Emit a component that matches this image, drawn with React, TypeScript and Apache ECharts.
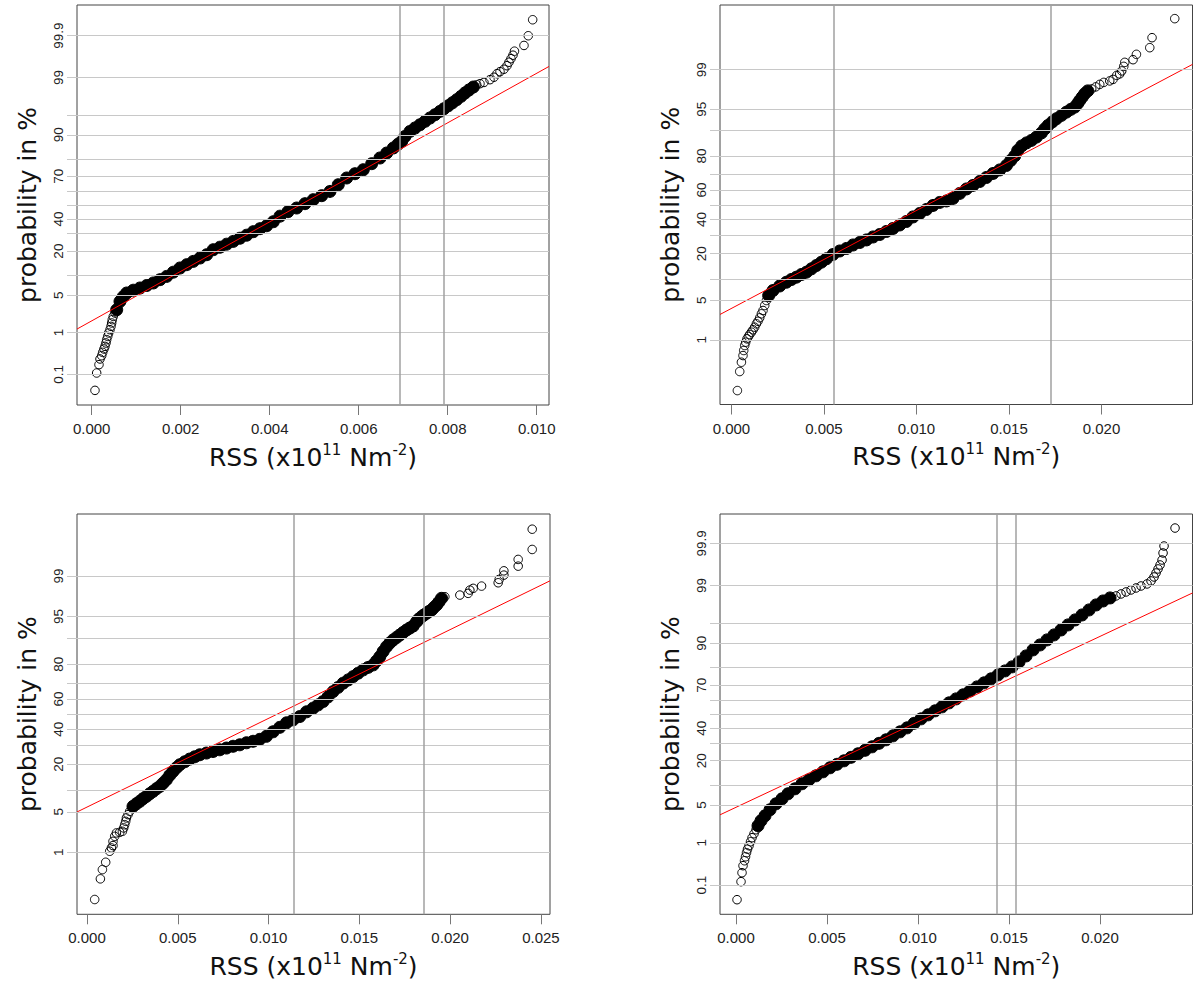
import React, { useEffect, useRef } from "react";
import * as echarts from "echarts";

// ---------- data (RSS value, normal quantile of plotting position) ----------
// Panel 1
const p1LowTail = [[0.000074,-3.383],[0.000112,-3.066],[0.000164,-2.914],[0.000187,-2.81],[0.000225,-2.75],[0.000247,-2.69],[0.000276,-2.628],[0.000299,-2.58],[0.000321,-2.518],[0.000337,-2.458],[0.00036,-2.398],[0.000382,-2.336],[0.000411,-2.276],[0.000434,-2.215],[0.000449,-2.153],[0.000463,-2.093],[0.000485,-2.033],[0.000524,-1.971]];
const p1Body = [[0.000562,-1.911],[0.000636,-1.759],[0.00071,-1.673],[0.000787,-1.606],[0.000935,-1.555],[0.001085,-1.515],[0.001236,-1.469],[0.001384,-1.423],[0.001535,-1.363],[0.001685,-1.303],[0.001834,-1.226],[0.001984,-1.15],[0.002135,-1.089],[0.002283,-1.029],[0.002434,-0.967],[0.002584,-0.907],[0.002732,-0.816],[0.002883,-0.77],[0.003034,-0.715],[0.003182,-0.664],[0.003332,-0.606],[0.003483,-0.551],[0.003631,-0.487],[0.003782,-0.432],[0.003932,-0.378],[0.004081,-0.305],[0.004231,-0.204],[0.004411,-0.122],[0.004606,-0.055],[0.004793,0.024],[0.004979,0.097],[0.005168,0.17],[0.005355,0.248],[0.005541,0.37],[0.00573,0.493],[0.005916,0.571],[0.006103,0.644],[0.006292,0.754],[0.006478,0.858],[0.006629,0.949],[0.006777,1.04],[0.006883,1.109],[0.006966,1.161],[0.00704,1.252],[0.007152,1.343],[0.007265,1.405],[0.007377,1.465],[0.007489,1.526],[0.007602,1.588],[0.007714,1.648],[0.007826,1.708],[0.007916,1.757],[0.008013,1.812],[0.008107,1.867],[0.008202,1.922],[0.008298,1.982],[0.008388,2.044],[0.008478,2.099],[0.008575,2.153]];
const p1HighTail = [[0.008651,2.195],[0.008725,2.214],[0.008815,2.237],[0.00895,2.287],[0.00904,2.332],[0.009107,2.396],[0.009175,2.433],[0.009264,2.478],[0.009332,2.542],[0.009377,2.606],[0.009422,2.67],[0.009467,2.734],[0.0095,2.807],[0.009714,2.912],[0.00981,3.089],[0.009909,3.381]];

// Panel 2
const p2LowTail = [[0.000324,-3.2],[0.000449,-2.872],[0.000541,-2.712],[0.000627,-2.597],[0.000665,-2.51],[0.000719,-2.424],[0.000773,-2.367],[0.000843,-2.309],[0.000919,-2.269],[0.000989,-2.235],[0.001081,-2.195],[0.001167,-2.154],[0.001259,-2.109],[0.001351,-2.05],[0.001438,-2.006],[0.00153,-1.947],[0.001622,-1.878],[0.001708,-1.821],[0.0018,-1.735],[0.001892,-1.649]];
const p2Body = [[0.002016,-1.563],[0.002248,-1.477],[0.002611,-1.399],[0.002973,-1.334],[0.003243,-1.287],[0.003513,-1.247],[0.003784,-1.201],[0.004054,-1.161],[0.004324,-1.103],[0.004594,-1.046],[0.004865,-0.989],[0.005135,-0.93],[0.005492,-0.856],[0.005854,-0.796],[0.006216,-0.753],[0.006573,-0.693],[0.006935,-0.65],[0.007297,-0.606],[0.007654,-0.555],[0.008016,-0.512],[0.008378,-0.46],[0.008734,-0.408],[0.009097,-0.348],[0.009459,-0.288],[0.009815,-0.21],[0.010178,-0.15],[0.01054,-0.081],[0.010896,-0.012],[0.011259,0.04],[0.011621,0.065],[0.011977,0.109],[0.01234,0.195],[0.012702,0.272],[0.013058,0.333],[0.013421,0.401],[0.013783,0.47],[0.01414,0.539],[0.014502,0.6],[0.014864,0.677],[0.015096,0.763],[0.015312,0.841],[0.015475,0.936],[0.015691,1.013],[0.015945,1.065],[0.016215,1.108],[0.016485,1.165],[0.016756,1.237],[0.016934,1.306],[0.017112,1.366],[0.017339,1.427],[0.017566,1.482],[0.017837,1.539],[0.018107,1.595],[0.018339,1.642],[0.018555,1.682],[0.018717,1.745],[0.018826,1.797],[0.018961,1.854],[0.019096,1.913],[0.019258,1.961]];
const p2HighTail = [[0.019474,1.995],[0.01969,2.03],[0.019907,2.073],[0.020123,2.107],[0.020447,2.133],[0.020625,2.159],[0.020825,2.228],[0.020987,2.254],[0.021096,2.305],[0.021204,2.383],[0.021258,2.452],[0.021707,2.498],[0.02189,2.59],[0.02261,2.705],[0.022733,2.877],[0.02396,3.205]];

// Panel 3
const p3LowTail = [[0.000424,-3.121],[0.000738,-2.773],[0.000849,-2.617],[0.00103,-2.494],[0.001251,-2.309],[0.001344,-2.252],[0.001433,-2.213],[0.001433,-2.141],[0.001526,-2.057],[0.00162,-2.0],[0.001802,-1.99],[0.001951,-1.973],[0.002022,-1.916],[0.002077,-1.861],[0.002132,-1.805],[0.002171,-1.748],[0.002259,-1.692],[0.002353,-1.637]];
const p3Body = [[0.002535,-1.553],[0.002722,-1.508],[0.002904,-1.469],[0.003086,-1.424],[0.003273,-1.385],[0.003455,-1.34],[0.003637,-1.301],[0.003824,-1.255],[0.004006,-1.217],[0.004188,-1.163],[0.004375,-1.104],[0.004557,-1.029],[0.004739,-0.965],[0.004926,-0.903],[0.005108,-0.852],[0.005383,-0.802],[0.005659,-0.756],[0.005934,-0.718],[0.00621,-0.684],[0.006579,-0.655],[0.006943,-0.629],[0.007312,-0.6],[0.007681,-0.571],[0.008045,-0.541],[0.008414,-0.516],[0.008783,-0.482],[0.009147,-0.457],[0.009516,-0.424],[0.009885,-0.373],[0.010249,-0.297],[0.010618,-0.222],[0.010987,-0.146],[0.011351,-0.096],[0.01172,-0.04],[0.012089,0.039],[0.012453,0.101],[0.012728,0.156],[0.013004,0.212],[0.013279,0.291],[0.013555,0.38],[0.01383,0.45],[0.014106,0.521],[0.014381,0.576],[0.014657,0.632],[0.014932,0.689],[0.015208,0.745],[0.015483,0.787],[0.015759,0.829],[0.015946,0.896],[0.016128,0.968],[0.01631,1.055],[0.016497,1.136],[0.016679,1.198],[0.016861,1.249],[0.017048,1.291],[0.01723,1.333],[0.017412,1.375],[0.017599,1.417],[0.017781,1.45],[0.017963,1.484],[0.01815,1.556],[0.018277,1.602],[0.018425,1.64],[0.018552,1.669],[0.018701,1.698],[0.018828,1.728],[0.018976,1.753],[0.019103,1.795],[0.019252,1.837],[0.019379,1.887],[0.019527,1.95]];
const p3HighTail = [[0.019709,1.977],[0.020536,2.005],[0.020993,2.034],[0.021087,2.089],[0.021269,2.118],[0.021731,2.156],[0.022646,2.212],[0.022701,2.269],[0.02296,2.341],[0.02296,2.413],[0.023748,2.492],[0.023748,2.605],[0.02452,2.773],[0.02452,3.114]];

// Panel 4
const p4LowTail = [[0.000055,-3.356],[0.000275,-3.03],[0.00033,-2.868],[0.000385,-2.741],[0.000467,-2.651],[0.000522,-2.579],[0.000577,-2.506],[0.000632,-2.443],[0.000714,-2.38],[0.000797,-2.308],[0.000879,-2.235],[0.000989,-2.163],[0.001099,-2.091]];
const p4Body = [[0.001209,-2.018],[0.001374,-1.928],[0.001593,-1.838],[0.001868,-1.729],[0.002198,-1.621],[0.002527,-1.531],[0.002857,-1.44],[0.003242,-1.35],[0.003626,-1.259],[0.004011,-1.187],[0.004396,-1.115],[0.00478,-1.043],[0.005165,-0.97],[0.00555,-0.907],[0.005934,-0.844],[0.006319,-0.781],[0.006703,-0.717],[0.007088,-0.654],[0.007473,-0.591],[0.007857,-0.528],[0.008242,-0.464],[0.008626,-0.392],[0.009011,-0.32],[0.009396,-0.248],[0.00978,-0.166],[0.010165,-0.085],[0.01055,-0.013],[0.010934,0.06],[0.011319,0.132],[0.011703,0.204],[0.012088,0.276],[0.012473,0.349],[0.012857,0.421],[0.013242,0.493],[0.013626,0.566],[0.014011,0.638],[0.014396,0.71],[0.01478,0.782],[0.015165,0.855],[0.01555,0.945],[0.015934,1.053],[0.016319,1.162],[0.016703,1.252],[0.017088,1.343],[0.017473,1.433],[0.017857,1.523],[0.018242,1.614],[0.018626,1.704],[0.019011,1.794],[0.019396,1.885],[0.01978,1.975],[0.020165,2.047],[0.02055,2.102]];
const p4HighTail = [[0.020879,2.138],[0.021154,2.174],[0.021429,2.21],[0.021703,2.246],[0.021978,2.282],[0.022253,2.318],[0.022582,2.355],[0.022802,2.409],[0.022967,2.481],[0.023077,2.553],[0.023187,2.626],[0.023297,2.698],[0.023407,2.788],[0.023462,2.915],[0.023516,3.041],[0.024121,3.366]];

// Reference (vertical) lines
const p1RefLines = [0.006913, 0.007917];
const p2RefLines = [0.00553, 0.01724];
const p3RefLines = [0.01139, 0.01855];
const p4RefLines = [0.01434, 0.01538];

// Fitted normal line: mean and sd
const fitMeans = [0.00468, 0.010587, 0.010474, 0.0109];
const fitSds = [0.002213, 0.005929, 0.006693, 0.00647];

// Axis ticks
const xTicks1 = [0, 0.002, 0.004, 0.006, 0.008, 0.01];
const xTicks2 = [0, 0.005, 0.01, 0.015, 0.02];
const xTicks3 = [0, 0.005, 0.01, 0.015, 0.02, 0.025];
const xTicks4 = [0, 0.005, 0.01, 0.015, 0.02];
const gridProbsWide = [0.1, 1, 5, 10, 20, 30, 40, 50, 60, 70, 80, 90, 95, 99, 99.9];
const labelProbsWide = [0.1, 1, 5, 20, 40, 70, 90, 99, 99.9];
const gridProbsNarrow = [1, 5, 10, 20, 30, 40, 50, 60, 70, 80, 90, 95, 99];
const labelProbsNarrow = [1, 5, 20, 40, 60, 80, 95, 99];

// ---------- normal quantile (axis transform) ----------
function qnorm(p: number): number {
  const a = [-3.969683028665376e1, 2.209460984245205e2, -2.759285104469687e2, 1.38357751867269e2, -3.066479806614716e1, 2.506628277459239];
  const b = [-5.447609879822406e1, 1.615858368580409e2, -1.556989798598866e2, 6.680131188771972e1, -1.328068155288572e1];
  const c = [-7.784894002430293e-3, -3.223964580411365e-1, -2.400758277161838, -2.549732539343734, 4.374664141464968, 2.938163982698783];
  const d = [7.784695709041462e-3, 3.224671290700398e-1, 2.445134137142996, 3.754408661907416];
  const pl = 0.02425;
  if (p < pl) {
    const q = Math.sqrt(-2 * Math.log(p));
    return (((((c[0] * q + c[1]) * q + c[2]) * q + c[3]) * q + c[4]) * q + c[5]) / ((((d[0] * q + d[1]) * q + d[2]) * q + d[3]) * q + 1);
  }
  if (p > 1 - pl) {
    const q = Math.sqrt(-2 * Math.log(1 - p));
    return -(((((c[0] * q + c[1]) * q + c[2]) * q + c[3]) * q + c[4]) * q + c[5]) / ((((d[0] * q + d[1]) * q + d[2]) * q + d[3]) * q + 1);
  }
  const q = p - 0.5;
  const r = q * q;
  return ((((((a[0] * r + a[1]) * r + a[2]) * r + a[3]) * r + a[4]) * r + a[5]) * q) / (((((b[0] * r + b[1]) * r + b[2]) * r + b[3]) * r + b[4]) * r + 1);
}

// ---------- layout ----------
const PANELS = [
  { left: 77, top: 5, width: 472, height: 400, xMin: -0.00033, xMax: 0.010276, zMax: 3.65, xTicks: xTicks1, grid: gridProbsWide, labels: labelProbsWide, low: p1LowTail, body: p1Body, high: p1HighTail, ref: p1RefLines },
  { left: 720, top: 5, width: 472.5, height: 399.5, xMin: -0.000616, xMax: 0.02492, zMax: 3.44, xTicks: xTicks2, grid: gridProbsNarrow, labels: labelProbsNarrow, low: p2LowTail, body: p2Body, high: p2HighTail, ref: p2RefLines },
  { left: 77, top: 514, width: 473, height: 400.3, xMin: -0.00055, xMax: 0.0255, zMax: 3.37, xTicks: xTicks3, grid: gridProbsNarrow, labels: labelProbsNarrow, low: p3LowTail, body: p3Body, high: p3HighTail, ref: p3RefLines },
  { left: 720, top: 514, width: 472.5, height: 400.3, xMin: -0.00088, xMax: 0.02508, zMax: 3.62, xTicks: xTicks4, grid: gridProbsWide, labels: labelProbsWide, low: p4LowTail, body: p4Body, high: p4HighTail, ref: p4RefLines },
];

const TITLE_FONT = "'DejaVu Sans', sans-serif";
const TICK_FONT = "'Liberation Sans', Arial, sans-serif";

export default function App() {
  const ref = useRef<HTMLDivElement>(null);
  useEffect(() => {
    if (!ref.current) return;
    const chart = echarts.init(ref.current, null, { renderer: "svg" });

    const grids: any[] = [];
    const xAxes: any[] = [];
    const yAxes: any[] = [];
    const series: any[] = [];
    const graphics: any[] = [];

    PANELS.forEach((p, i) => {
      grids.push({ left: p.left, top: p.top, width: p.width, height: p.height, show: true, borderColor: "#444", borderWidth: 1, backgroundColor: "transparent" });
      xAxes.push({
        gridIndex: i, type: "value", min: p.xMin, max: p.xMax, position: "bottom",
        axisLine: { show: false, onZero: false }, splitLine: { show: false },
        axisTick: { show: true, customValues: p.xTicks, length: 10, lineStyle: { color: "#777", width: 1 } },
        axisLabel: { show: true, customValues: p.xTicks, margin: 16, fontSize: 15, color: "#222", fontFamily: TICK_FONT, formatter: (v: number) => v.toFixed(3) },
      });
      const gridZ = p.grid.map((q) => qnorm(q / 100));
      const labelZ = p.labels.map((q) => qnorm(q / 100));
      yAxes.push({
        gridIndex: i, type: "value", min: -p.zMax, max: p.zMax, position: "left",
        axisLine: { show: false, onZero: false }, splitLine: { show: false },
        axisTick: { show: true, customValues: gridZ, length: 10, lineStyle: { color: "#c8c8c8", width: 1 } },
        axisLabel: {
          show: true, customValues: labelZ, rotate: 90, margin: 12, fontSize: 13.5, color: "#222", fontFamily: TICK_FONT,
          formatter: (v: number) => {
            let best = 0;
            labelZ.forEach((z, k) => { if (Math.abs(z - v) < Math.abs(labelZ[best] - v)) best = k; });
            return String(p.labels[best]);
          },
        },
      });
      // gridlines
      series.push({
        type: "line", xAxisIndex: i, yAxisIndex: i, data: [], z: 1, silent: true,
        markLine: { silent: true, precision: 8, symbol: ["none", "none"], label: { show: false }, lineStyle: { color: "#c8c8c8", width: 1.2, type: "solid" }, emphasis: { disabled: true }, data: gridZ.map((z) => ({ yAxis: z })) },
      });
      // reference vertical lines
      series.push({
        type: "line", xAxisIndex: i, yAxisIndex: i, data: [], z: 2, silent: true,
        markLine: { silent: true, precision: 8, symbol: ["none", "none"], label: { show: false }, lineStyle: { color: "#a0a0a0", width: 1.5, type: "solid" }, emphasis: { disabled: true }, data: p.ref.map((v) => ({ xAxis: v })) },
      });
      // dense body of points
      series.push({
        type: "scatter", xAxisIndex: i, yAxisIndex: i, data: p.body, z: 3, silent: true,
        symbol: "circle", symbolSize: 12,
        itemStyle: { color: "#000", borderColor: "#000", borderWidth: 1, opacity: 1 },
      });
      // tails (open circles)
      series.push({
        type: "scatter", xAxisIndex: i, yAxisIndex: i, data: [...p.low, ...p.high], z: 3, silent: true,
        symbol: "circle", symbolSize: 8.5,
        itemStyle: { color: "rgba(255,255,255,0)", borderColor: "#000", borderWidth: 1, opacity: 1 },
      });
      // fitted line
      const m = fitMeans[i];
      const s = fitSds[i];
      series.push({
        type: "line", xAxisIndex: i, yAxisIndex: i, z: 4, silent: true, symbol: "none",
        data: [[p.xMin, (p.xMin - m) / s], [p.xMax, (p.xMax - m) / s]],
        lineStyle: { color: "#ff0000", width: 1 },
      });

      const cx = p.left + p.width / 2;
      const cy = p.top + p.height / 2;
      graphics.push({
        type: "text", x: p.left - 50, y: cy, rotation: Math.PI / 2, silent: true,
        style: { text: "probability in %", fontSize: 25, fontFamily: TITLE_FONT, fill: "#111", align: "center", verticalAlign: "middle", textAlign: "center", textVerticalAlign: "middle" },
      });
      graphics.push({
        type: "text", x: cx, y: p.top + p.height + 52, silent: true,
        style: {
          text: "{a|RSS (x10}{s|11}{a| Nm}{s|-2}{a|)}",
          align: "center", verticalAlign: "middle", textAlign: "center", textVerticalAlign: "middle",
          rich: {
            a: { fontSize: 25, fontFamily: TITLE_FONT, fill: "#111", lineHeight: 30 },
            s: { fontSize: 15, fontFamily: TITLE_FONT, fill: "#111", lineHeight: 14, verticalAlign: "top" },
          },
        },
      });
    });

    chart.setOption({
      animation: false,
      backgroundColor: "#ffffff",
      grid: grids,
      xAxis: xAxes,
      yAxis: yAxes,
      series,
      graphic: graphics,
    });
    return () => chart.dispose();
  }, []);
  return <div ref={ref} style={{ position: "fixed", left: 0, top: 0, width: 1200, height: 985 }} />;
}
